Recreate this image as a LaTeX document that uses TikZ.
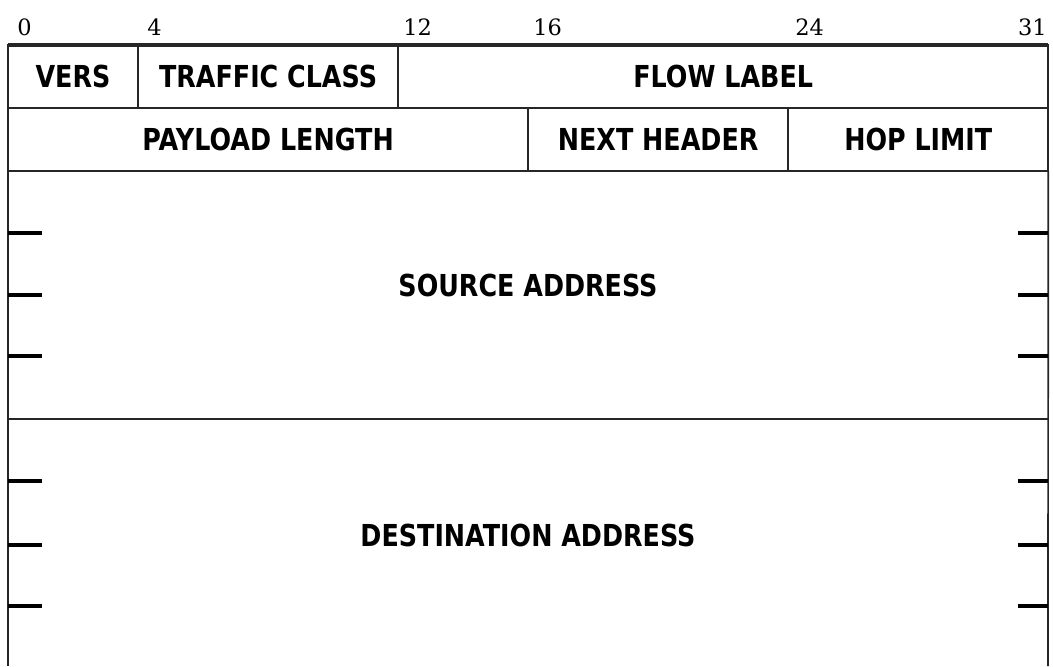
\documentclass[tikz,border=0pt]{standalone}
\usepackage{fontspec}
\newfontfamily\fieldfont[FakeStretch=0.84]{DejaVu Sans Bold}
\newfontfamily\bitfont{DejaVu Serif}
\begin{document}
\begin{tikzpicture}[x=0.025cm, y=-0.025cm,
        field/.style={draw=black!85, line width=1.2pt, rectangle, inner sep=0pt, outer sep=0pt,
            minimum height=1.575cm, minimum width=#1*0.8125cm, anchor=north west,
            font=\fieldfont\fontsize{21.5}{24}\selectfont},
        bit/.style={anchor=base west, inner sep=0pt, font=\bitfont\fontsize{16}{18}\selectfont},
        tick/.style={line width=2.8pt, black}]
    \useasboundingbox (0,0) rectangle (1053,666);
    % bit numbers
    \node[bit] (b0) at (17,35) {0};
    \node[bit] (b4) at (147,35) {4};
    \node[bit] (b12) at (403,35) {12};
    \node[bit] (b16) at (533,35) {16};
    \node[bit] (b24) at (795,35) {24};
    \node[bit, anchor=base east] (b31) at (1047,35) {31};
    % first two words
    \node[field=4] (vers) at (8,45) {VERS};
    \node[field=8] (tc) at (vers.north east) {TRAFFIC CLASS};
    \node[field=20] (flow) at (tc.north east) {FLOW LABEL};
    \node[field=16] (len) at (vers.south west) {PAYLOAD LENGTH};
    \node[field=8] (next) at (len.north east) {NEXT HEADER};
    \node[field=8] (hop) at (next.north east) {HOP LIMIT};
    \draw[line width=2.2pt, black!85] (vers.north west) -- (flow.north east);
    % addresses
    \coordinate (sw) at (8,419);
    \coordinate (se) at (1048,419);
    \coordinate (bl) at (8,666);
    \coordinate (br) at (1048,666);
    \draw[line width=1.2pt, black!85] (len.south west) -- (bl);
    \draw[line width=1.2pt, black!85] (hop.south east) -- (br);
    \draw[line width=1.2pt, black!85] (sw) -- (se);
    \node[font=\fieldfont\fontsize{21.5}{24}\selectfont] (src) at (528,285) {SOURCE ADDRESS};
    \node[font=\fieldfont\fontsize{21.5}{24}\selectfont] (dst) at (528,535) {DESTINATION ADDRESS};
    \foreach \y in {233,295,356,481,545,606} {
        \draw[tick] (8,\y) -- +(34,0);
        \draw[tick] (1048,\y) -- +(-30,0);
    }
\end{tikzpicture}
\end{document}
